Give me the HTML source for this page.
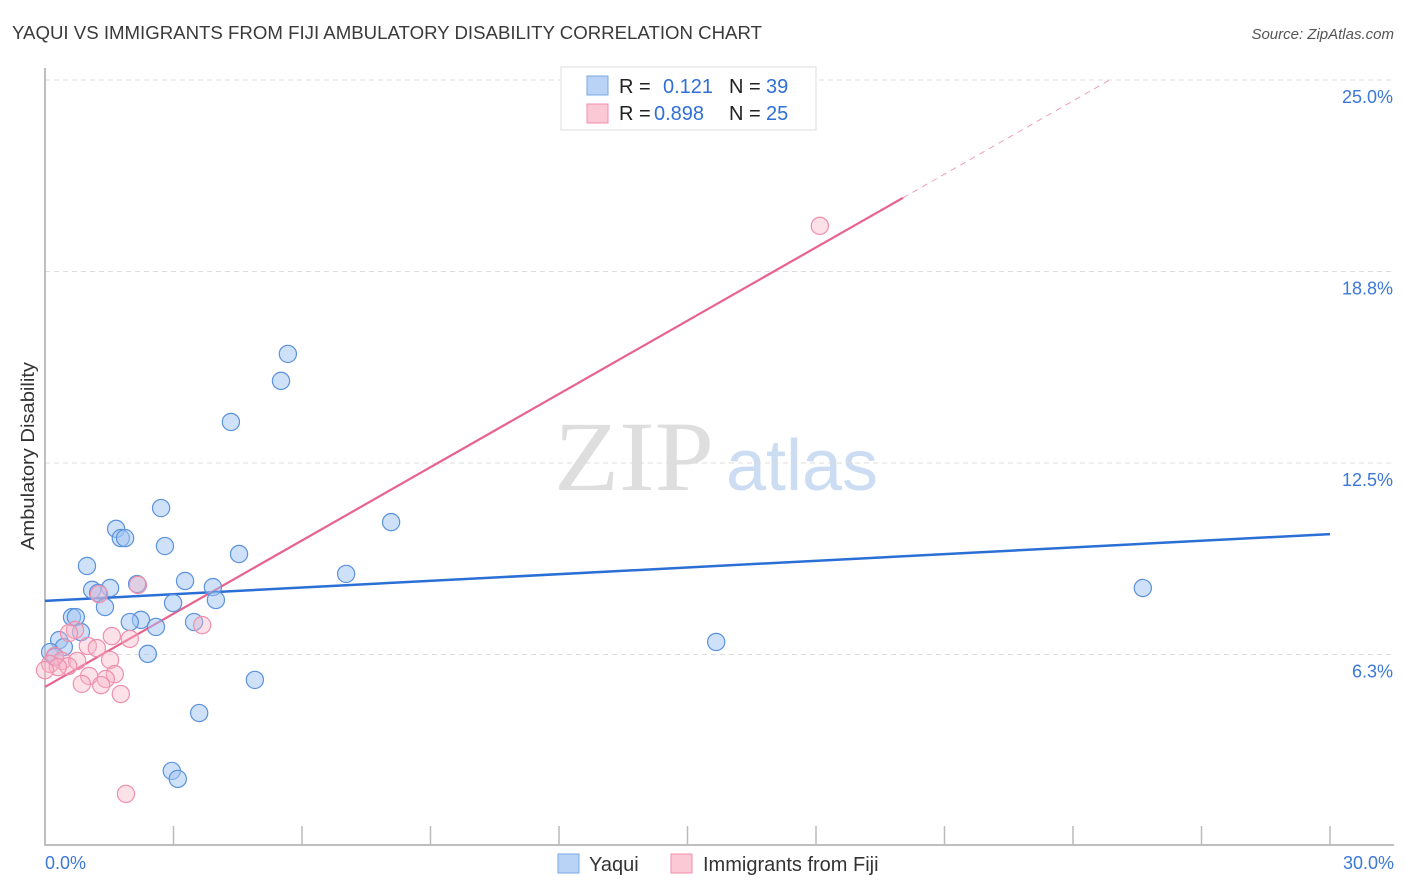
<!DOCTYPE html>
<html><head><meta charset="utf-8"><style>
body{margin:0;background:#fff;font-family:"Liberation Sans",sans-serif;}
svg{display:block}
</style></head><body>
<svg id="chart" width="1406" height="892" xmlns="http://www.w3.org/2000/svg">
<text x="12" y="39" font-size="18" fill="#3a3a3a" textLength="750" lengthAdjust="spacingAndGlyphs">YAQUI VS IMMIGRANTS FROM FIJI AMBULATORY DISABILITY CORRELATION CHART</text>
<text x="1394" y="39" font-size="15" fill="#555" font-style="italic" text-anchor="end">Source: ZipAtlas.com</text>
<text x="34" y="456" font-size="18.5" fill="#333" text-anchor="middle" textLength="188" lengthAdjust="spacingAndGlyphs" transform="rotate(-90 34 456)">Ambulatory Disability</text>
<g>
<text x="634" y="490" font-size="100" font-family="Liberation Serif,serif" fill="#dedede" text-anchor="middle" textLength="160" lengthAdjust="spacingAndGlyphs">ZIP</text>
<text x="802" y="490" font-size="72" fill="#cbdcf3" text-anchor="middle">atlas</text>
</g>
<g id="grid"></g>
<g id="axes"></g>
<g id="lines"></g>
<g id="pts"></g>
<g>
<rect x="561" y="67" width="255" height="63" fill="#fff" stroke="#ddd"/>
<rect x="587" y="76" width="21" height="19" fill="#b8d3f5" stroke="#7aa8e6"/>
<rect x="587" y="104" width="21" height="19" fill="#fbc8d6" stroke="#f08eaa"/>
<text x="619" y="93" font-size="20" fill="#222">R =</text><text x="663" y="93" font-size="20" fill="#2f6fd6">0.121</text>
<text x="729" y="93" font-size="20" fill="#222">N =</text><text x="766" y="93" font-size="20" fill="#2f6fd6">39</text>
<text x="619" y="120" font-size="20" fill="#222">R =</text><text x="654" y="120" font-size="20" fill="#2f6fd6">0.898</text>
<text x="729" y="120" font-size="20" fill="#222">N =</text><text x="766" y="120" font-size="20" fill="#2f6fd6">25</text>
</g>
<g>
<rect x="558" y="854" width="21" height="19" fill="#b8d3f5" stroke="#7aa8e6"/>
<text x="589" y="871" font-size="20" fill="#333">Yaqui</text>
<rect x="671" y="854" width="21" height="19" fill="#fbc8d6" stroke="#f08eaa"/>
<text x="703" y="871" font-size="20" fill="#333">Immigrants from Fiji</text>
</g>
</svg>
<script>
const yTicks=[6.3,12.5,18.8,25.0];
const yTickVals=[6.25,12.5,18.75,25];
const xTickLabels=["0.0%","30.0%"];
const blueX=[5.67,5.51,4.34,2.71,8.08,1.66,1.77,1.87,2.80,4.53,0.98,7.03,3.27,2.15,1.10,1.52,3.92,1.24,1.40,2.99,3.99,0.63,0.72,2.24,1.98,3.48,2.59,0.84,0.33,0.44,0.12,0.23,2.40,15.67,25.63,4.90,3.60,2.96,3.10];
const blueY=[16.06,15.18,13.84,11.03,10.57,10.35,10.05,10.05,9.79,9.53,9.14,8.88,8.65,8.55,8.36,8.42,8.45,8.26,7.80,7.93,8.03,7.47,7.47,7.38,7.31,7.31,7.15,6.98,6.72,6.49,6.33,6.17,6.27,6.66,8.42,5.42,4.34,2.45,2.19];
const pinkX=[18.09,2.17,1.26,3.67,0.70,0.56,1.56,1.98,1.00,1.21,0.23,0.40,1.52,0.75,0.54,0.12,0.30,1.03,1.63,1.42,0.86,1.31,1.77,1.89,0.0];
const pinkY=[20.24,8.52,8.22,7.21,7.05,6.95,6.85,6.76,6.53,6.46,6.20,6.04,6.07,6.04,5.87,5.94,5.84,5.55,5.61,5.45,5.29,5.25,4.96,1.70,5.74];
const blueTrend=[8.00,10.18];
const pinkTrend=[5.19,0.797];
const NS="http://www.w3.org/2000/svg";
const X=v=>45+v/30*1285;
const Y=v=>846-v/6.25*191.5;
function mk(tag,attrs,parent){const e=document.createElementNS(NS,tag);for(const k in attrs)e.setAttribute(k,attrs[k]);document.getElementById(parent).appendChild(e);return e;}
yTickVals.forEach((v,i)=>{
 const l=mk('line',{x1:45,x2:1394,y1:Y(v),y2:Y(v),stroke:'#ddd','stroke-dasharray':'5,4'},'grid');
 
 
 const t=mk('text',{x:1393,y:Y(v)+23,'font-size':18,fill:'#3b78d8','text-anchor':'end'},'grid');
 t.textContent=yTicks[i].toFixed(1)+'%';
 
 
});
const ax=mk('path',{d:'M45 68 V845 H1394',stroke:'#aaa','stroke-width':1.5,fill:'none'},'axes');


for(let i=1;i<=10;i++){
 const tk=mk('line',{x1:X(i*3),x2:X(i*3),y1:826,y2:845,stroke:'#bbb','stroke-width':1.5},'axes');
 
 
}
[[0,'start',45],[30,'end',1394]].forEach((a,i)=>{
 const t=mk('text',{x:a[2],y:869,'font-size':18,fill:'#3b78d8','text-anchor':a[1]},'axes');
 t.textContent=xTickLabels[i];
 
 
});
function pt(x,y,f,s,n){
 const c=mk('circle',{cx:X(x),cy:Y(y),r:8.6,fill:f,stroke:s,'stroke-width':1.2},'pts');
 
 
}
blueX.forEach((x,i)=>pt(x,blueY[i],'rgba(160,196,242,0.5)','#5a92de','yaqui-point'));
pinkX.forEach((x,i)=>pt(x,pinkY[i],'rgba(248,180,200,0.4)','#ef8fab','fiji-point'));
const bl=mk('line',{x1:X(0),y1:Y(blueTrend[0]),x2:X(30),y2:Y(blueTrend[1]),stroke:'#2a6fd6','stroke-width':2.5},'lines');


const pe=20.03;
const pl=mk('line',{x1:X(0),y1:Y(pinkTrend[0]),x2:X(pe),y2:Y(pinkTrend[0]+pinkTrend[1]*pe),stroke:'#e8628e','stroke-width':2.2},'lines');


const xe=(25-pinkTrend[0])/pinkTrend[1];
const pd=mk('line',{x1:X(pe),y1:Y(pinkTrend[0]+pinkTrend[1]*pe),x2:X(xe),y2:Y(25),stroke:'#eea0b8','stroke-width':1,'stroke-dasharray':'6,5'},'lines');


</script>
</body></html>
